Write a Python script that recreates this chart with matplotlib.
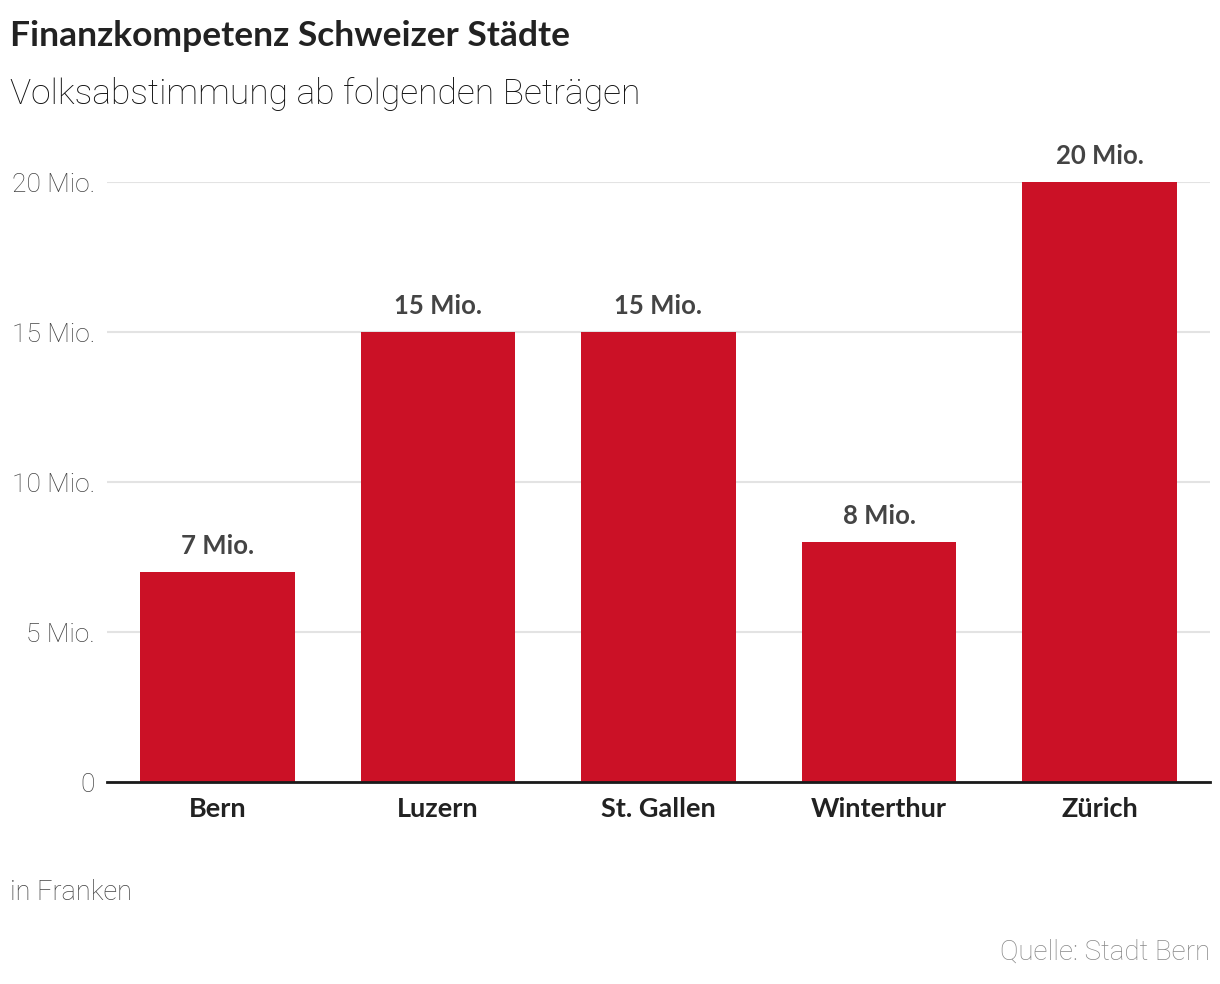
import numpy as np
import matplotlib.pyplot as plt

# Daten
staedte = ['Bern', 'Luzern', 'St. Gallen', 'Winterthur', 'Zürich']
betraege_mio = [7, 15, 15, 8, 20]
y_ticks = [0, 5, 10, 15, 20]
y_tick_labels = ['0', '5 Mio.', '10 Mio.', '15 Mio.', '20 Mio.']

rot = '#CB1126'
fett = ['Lato', 'DejaVu Sans']
duenn = ['Roboto', 'DejaVu Sans']
plt.rcParams['font.family'] = fett

fig = plt.figure(figsize=(12.2, 9.84), dpi=100)
ax = fig.add_axes([107 / 1220, 1 - 782 / 984, 1103 / 1220, 600 / 984])

x = np.arange(len(staedte))
bars = ax.bar(x, betraege_mio, width=0.7, color=rot, zorder=2)

for xi, v in zip(x, betraege_mio):
    ax.annotate(f'{v} Mio.', (xi, v), xytext=(0, 10), textcoords='offset points',
                ha='center', va='bottom', fontsize=18.5, fontweight='bold',
                color='#444444', clip_on=False)

ax.set_xlim(-0.5, len(staedte) - 0.5)
ax.set_ylim(0, 20)
ax.set_yticks(y_ticks)
ax.set_yticklabels(y_tick_labels, fontsize=19, fontweight='light', color='#444444',
                   family=duenn)
ax.set_xticks(x)
ax.set_xticklabels(staedte, fontsize=19.5, fontweight='bold', color='#222222')
ax.tick_params(axis='both', length=0)
ax.tick_params(axis='y', pad=8.5)
ax.tick_params(axis='x', pad=10.5)

ax.grid(axis='y', color='#e3e3e3', linewidth=1.5, zorder=0)
ax.set_axisbelow(True)
for s in ['top', 'right', 'left']:
    ax.spines[s].set_visible(False)
ax.spines['bottom'].set_color('#1a1a1a')
ax.spines['bottom'].set_linewidth(2)
ax.spines['bottom'].set_zorder(3)

fig.text(10 / 1220, 1 - 36 / 984, 'Finanzkompetenz Schweizer Städte', fontsize=25.5,
         fontweight='bold', color='#222222', va='center', ha='left')
fig.text(10 / 1220, 1 - 94 / 984, 'Volksabstimmung ab folgenden Beträgen', fontsize=25.5,
         fontweight='light', color='#111111', va='center', ha='left', family=duenn)
fig.text(10 / 1220, 1 - 892 / 984, 'in Franken', fontsize=19.5,
         fontweight='light', color='#444444', va='center', ha='left', family=duenn)
fig.text(1210 / 1220, 1 - 952 / 984, 'Quelle: Stadt Bern', fontsize=20,
         fontweight='light', color='#888888', va='center', ha='right', family=duenn)

fig.savefig('out.png', dpi=100, facecolor='white')
